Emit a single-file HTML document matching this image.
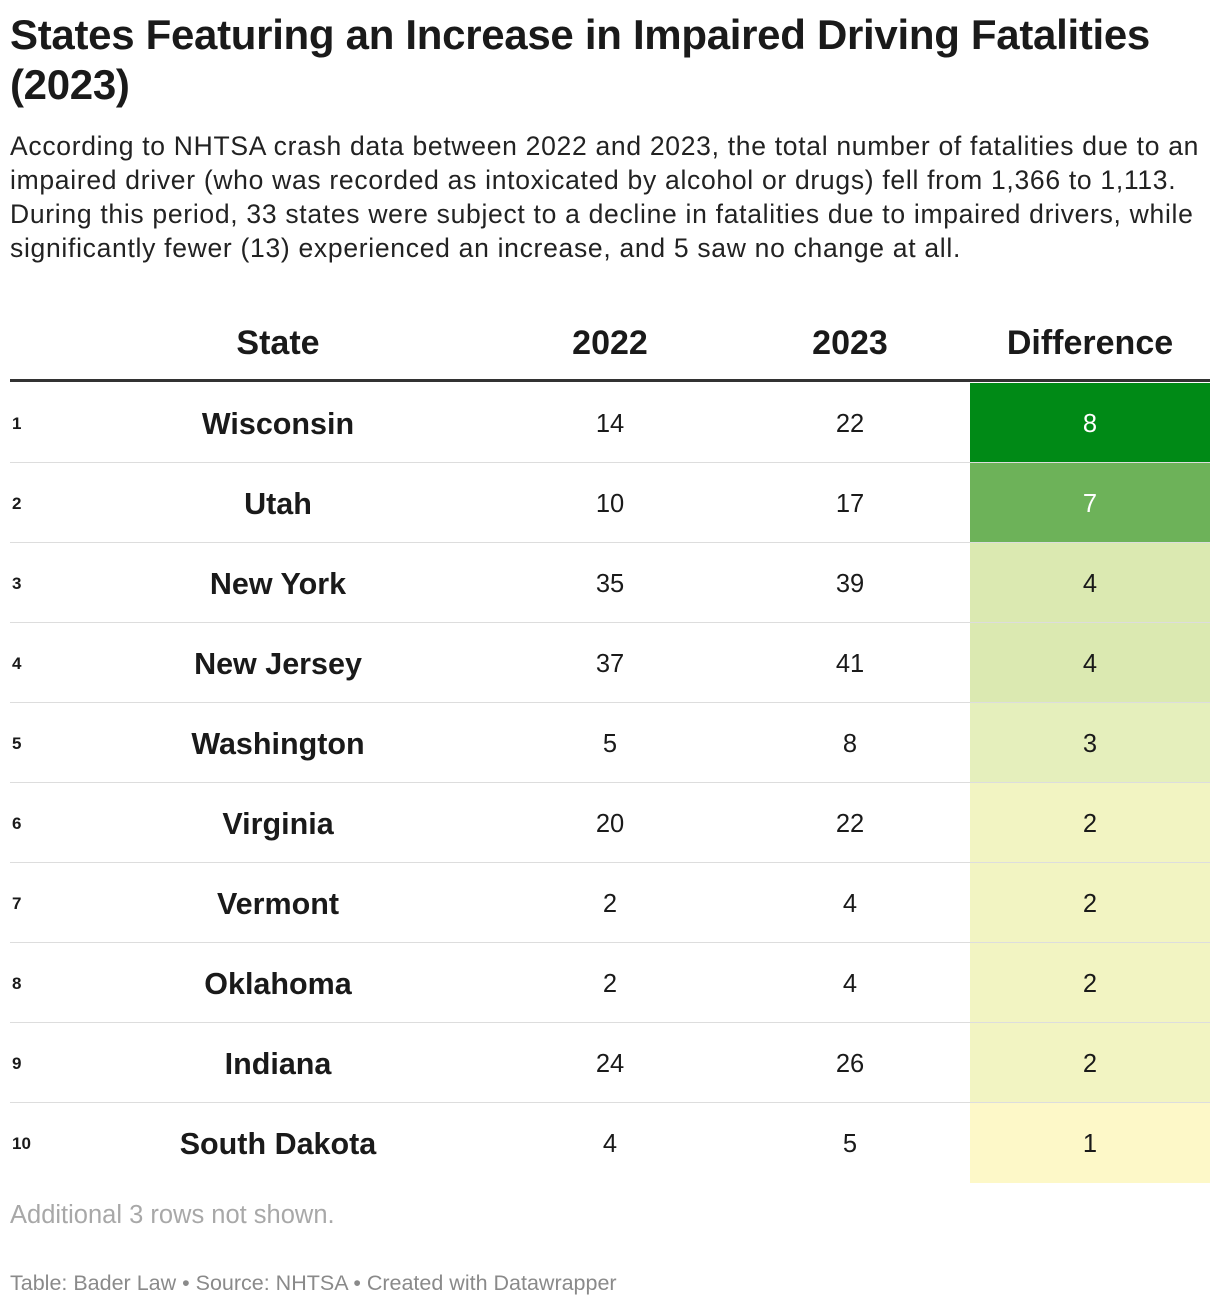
<!DOCTYPE html>
<html><head><meta charset="utf-8">
<style>
body{margin:0;background:#fff;width:1220px;height:1308px;position:relative;font-family:"Liberation Sans",sans-serif;color:#1a1a1a;overflow:hidden}
.abs{position:absolute}
#title{left:10px;top:10px;font-size:42px;font-weight:bold;line-height:50px;white-space:nowrap;letter-spacing:-0.3px}
#sub{left:10px;top:129px;font-size:26.5px;letter-spacing:0.7px;line-height:34px;white-space:nowrap;color:#222}
.hdr{top:322px;font-size:34px;font-weight:bold;text-align:center;line-height:42px}
#hline{left:10px;top:379px;width:1200px;height:3px;background:#333}
.row{position:absolute;left:10px;width:1200px;height:80px}
.row .sep{position:absolute;left:0;bottom:0;width:1200px;height:1px;background:#ddd}
.cell{position:absolute;top:0;height:80px;line-height:82px;text-align:center}
.rank{left:2px;font-size:17px;font-weight:bold;text-align:left}
.state{left:118px;width:300px;font-size:30.5px;font-weight:bold}
.num{font-size:25.5px;width:240px}
#note{left:10px;top:1201px;font-size:25.5px;color:#a8a8a8}
#foot{left:10px;top:1271px;font-size:21.5px;color:#8a8a8a}
</style></head><body>
<div id="title" class="abs">States Featuring an Increase in Impaired Driving Fatalities<br>(2023)</div>
<div id="sub" class="abs">According to NHTSA crash data between 2022 and 2023, the total number of fatalities due to an<br>impaired driver (who was recorded as intoxicated by alcohol or drugs) fell from 1,366 to 1,113.<br>During this period, 33 states were subject to a decline in fatalities due to impaired drivers, while<br>significantly fewer (13) experienced an increase, and 5 saw no change at all.</div>
<div class="abs hdr" style="left:128px;width:300px">State</div>
<div class="abs hdr" style="left:490px;width:240px">2022</div>
<div class="abs hdr" style="left:730px;width:240px">2023</div>
<div class="abs hdr" style="left:970px;width:240px">Difference</div>
<div id="hline" class="abs"></div>
<div id="rows"></div>
<div id="note" class="abs">Additional 3 rows not shown.</div>
<div id="foot" class="abs">Table: Bader Law • Source: NHTSA • Created with Datawrapper</div>
<script>
const states = ["Wisconsin","Utah","New York","New Jersey","Washington","Virginia","Vermont","Oklahoma","Indiana","South Dakota"];
const values2022 = [14,10,35,37,5,20,2,2,24,4];
const values2023 = [22,17,39,41,8,22,4,4,26,5];
const differences = [8,7,4,4,3,2,2,2,2,1];
const colorStops = {1:"#fdf8c8",2:"#f2f4c2",3:"#e5efbc",4:"#dbe9b1",5:"#bcdb98",6:"#97c87a",7:"#6db259",8:"#008a16"};
function diffColor(v){const k=Math.max(1,Math.min(8,Math.round(v)));return colorStops[k];}
const body=document.getElementById('rows');
states.forEach((s,i)=>{
  const r=document.createElement('div');
  r.className='row';r.style.top=(383+i*80)+'px';
  
  
  const d=differences[i];
  const light=d>=7;
  r.innerHTML=
   '<div class="cell rank">'+(i+1)+'</div>'+
   '<div class="cell state">'+s+'</div>'+
   '<div class="cell num" style="left:480px">'+values2022[i]+'</div>'+
   '<div class="cell num" style="left:720px">'+values2023[i]+'</div>'+
   '<div class="cell num" style="left:960px;background:'+diffColor(d)+';color:'+(light?'#fff':'#1a1a1a')+'">'+d+'</div>'+
   (i<states.length-1?'<div class="sep"></div>':'');
  body.appendChild(r);
});
</script>
</body></html>
